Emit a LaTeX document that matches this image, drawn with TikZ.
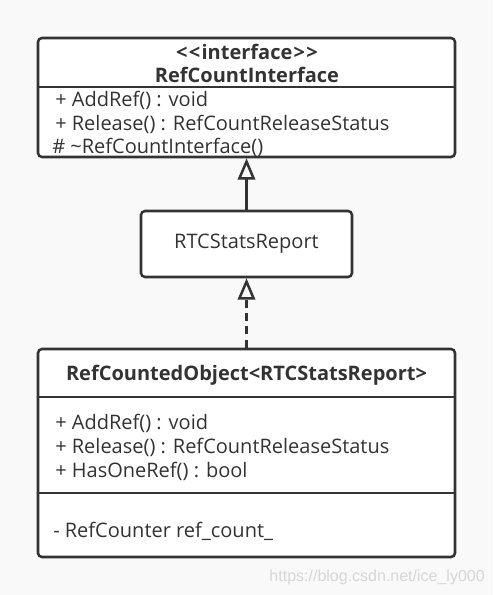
\documentclass[tikz,border=0pt]{standalone}
\usepackage{fontspec}
\setmainfont{Open Sans}
\newfontfamily\wmfont{Liberation Sans}
\usetikzlibrary{arrows.meta, positioning}
\definecolor{umlline}{HTML}{333333}
\definecolor{umlbg}{HTML}{F9F9F9}
\definecolor{umlmark}{HTML}{D6D6D6}

\begin{document}
\begin{tikzpicture}[
  x=0.75pt, y=-0.75pt,
  classbox/.style={
    draw=umlline, fill=white, line width=1.9pt, rounded corners=3pt,
    inner sep=0pt
  },
  divider/.style={draw=umlline, line width=1.9pt},
  member/.style={anchor=west, inner sep=0pt, text=umlline,
    font=\fontsize{15}{17}\selectfont},
  title/.style={inner sep=0pt, text=umlline,
    font=\fontsize{15}{17}\selectfont\bfseries},
  generalization/.style={-{Triangle[open, length=16pt, width=13pt]},
    line width=1.9pt, umlline},
  realization/.style={-{Triangle[open, length=16pt, width=13pt]},
    line width=1.9pt, umlline, dash pattern=on 6pt off 4pt},
]

% Background
\fill[umlbg] (0,0) rectangle (493,595);
\useasboundingbox (0,0) rectangle (493,595);

% Interface
\node[classbox, minimum width=312.75pt, minimum height=89.25pt] (iface) at (246.5,97.5) {};
\draw[divider] (iface.west |- 0,87) -- (iface.east |- 0,87);
\node[title] (stereo) at (247,52) {<\kern1pt<\kern1pt interface\kern1pt>\kern1pt>};
\node[title] (ifname) at (247,75) {RefCountInterface};
\node[member] (if1) at (55,100) {+ AddRef() : void};
\node[member] (if2) at (55,124) {+ Release() : RefCountReleaseStatus};
\node[member] (if3) at (52,147) {\# \textasciitilde RefCountInterface()};

% Report class
\node[classbox, minimum width=158.25pt, minimum height=49.5pt,
  font=\fontsize{15}{17}\selectfont, text=umlline] (report) at (246.5,244) {RTCStatsReport};

% RefCountedObject
\node[classbox, minimum width=312.75pt, minimum height=156pt] (refobj) at (246.5,453) {};
\draw[divider] (refobj.west |- 0,397) -- (refobj.east |- 0,397);
\draw[divider] (refobj.west |- 0,493) -- (refobj.east |- 0,493);
\node[title] (objname) at (246.5,375) {RefCountedObject<RTCStatsReport>};
\node[member] (ob1) at (55,423) {+ AddRef() : void};
\node[member] (ob2) at (55,447) {+ Release() : RefCountReleaseStatus};
\node[member] (ob3) at (55,471) {+ HasOneRef() : bool};
\node[member] (ob4) at (53,531) {- RefCounter ref\_count\_};

% Relations
\draw[generalization] (report.north) -- (iface.south);
\draw[realization] (refobj.north) -- (report.south);

% Watermark
\node[anchor=east, inner sep=0pt, text=umlmark, font=\wmfont\fontsize{12}{14}\selectfont]
  (mark) at (485,577) {https://blog.csdn.net/ice\_ly000};

\end{tikzpicture}
\end{document}
